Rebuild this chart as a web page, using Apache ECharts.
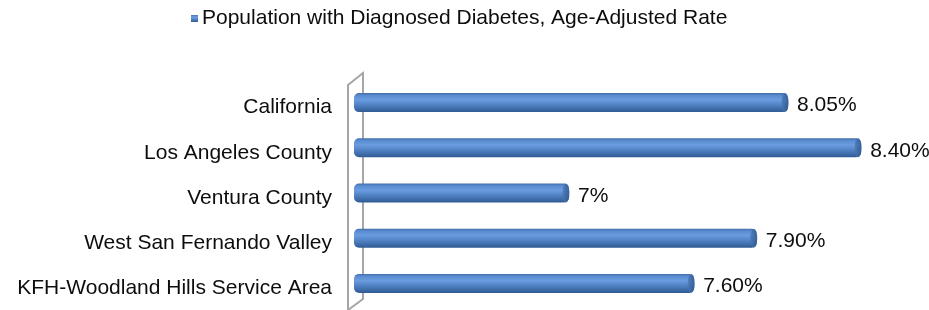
<!DOCTYPE html>
<html>
<head>
<meta charset="utf-8">
<script src="https://cdn.jsdelivr.net/npm/echarts@6/dist/echarts.min.js"></script>
<style>
  html, body { margin: 0; padding: 0; background: #fff; }
  #chart { width: 929px; height: 310px; }
</style>
</head>
<body>
<div id="chart"></div>
<script>
const categories = [
  "California",
  "Los Angeles County",
  "Ventura County",
  "West San Fernando Valley",
  "KFH-Woodland Hills Service Area",
];
const rates = [8.05, 8.4, 7.0, 7.9, 7.6];
const rateLabels = ["8.05%", "8.40%", "7%", "7.90%", "7.60%"];
const seriesName = "Population with Diagnosed Diabetes, Age-Adjusted Rate";

const FONT = "Liberation Sans, Arial, sans-serif";
const TEXT = "#0d0d0d";
const GRID = { left: 354, right: 47, top: 80, bottom: 4 };

const chart = echarts.init(document.getElementById("chart"), null, { renderer: "canvas" });

// cylinder shading, top to bottom
const barFill = new echarts.graphic.LinearGradient(0, 0, 0, 1, [
  { offset: 0, color: "#416ea9" },
  { offset: 0.12, color: "#5a8bd0" },
  { offset: 0.35, color: "#6a9ce0" },
  { offset: 0.6, color: "#5284c6" },
  { offset: 1, color: "#305b94" },
]);
const capFill = new echarts.graphic.LinearGradient(0, 0, 1, 0, [
  { offset: 0, color: "#4a79b6" },
  { offset: 1, color: "#2c548b" },
]);

chart.setOption({
  animation: false,
  backgroundColor: "#fff",
  legend: {
    top: 3,
    left: 186,
    data: [{ name: seriesName, icon: "rect" }],
    itemWidth: 7,
    itemHeight: 7,
    itemGap: 4,
    textStyle: { fontFamily: FONT, fontSize: 21, color: TEXT, padding: [0, 0, 0, -1] },
  },
  grid: GRID,
  xAxis: {
    type: "value",
    min: 5.97,
    max: 8.5,
    show: false,
  },
  yAxis: {
    type: "category",
    inverse: true,
    data: categories,
    axisLine: { show: false },
    axisTick: { show: false },
    axisLabel: {
      fontFamily: FONT,
      fontSize: 21,
      color: TEXT,
      margin: 22,
      verticalAlign: "top",
      lineHeight: 10,
    },
  },
  series: [
    {
      name: seriesName,
      type: "bar",
      data: rates,
      barWidth: 19,
      color: "#4f81bd",
      itemStyle: { color: barFill, borderRadius: 5 },
      label: {
        show: true,
        position: "right",
        distance: 9,
        offset: [0, 3],
        fontFamily: FONT,
        fontSize: 21,
        color: TEXT,
        formatter: (p) => rateLabels[p.dataIndex],
      },
      z: 3,
    },
    {
      type: "scatter",
      data: rates,
      symbol: "circle",
      symbolSize: [7, 19],
      symbolOffset: [-3, 0],
      itemStyle: { color: capFill },
      silent: true,
      z: 4,
    },
  ],
});

// 3-D wall behind the bars, fitted to the grid
function drawWall() {
  const rect = chart.getModel().getComponent("grid", 0).coordinateSystem.getRect();
  const xl = rect.x - 6;
  const xr = rect.x + 9;
  const top = rect.y;
  const bottom = rect.y + rect.height;
  chart.setOption({
    graphic: [
      {
        type: "polyline",
        z: 1,
        shape: {
          points: [
            [xl, bottom + 4],
            [xl, top + 5],
            [xr, top - 7],
            [xr, bottom - 7],
            [xl, bottom + 4],
          ],
        },
        style: { stroke: "#a6a6a6", lineWidth: 2, fill: null },
      },
    ],
  });
}
drawWall();
</script>
</body>
</html>
